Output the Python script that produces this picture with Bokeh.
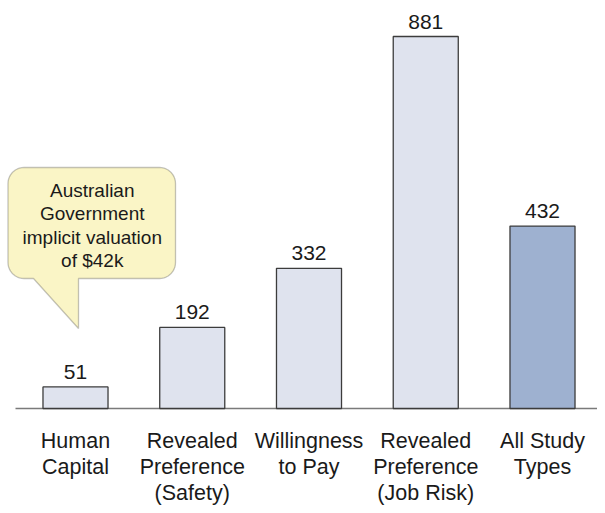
import numpy as np
from bokeh.plotting import figure
from bokeh.models import Range1d, PolyAnnotation, Label
from bokeh.core.properties import value
from bokeh.embed import file_html
from bokeh.resources import INLINE

# ---- data ----
categories = ["Human\nCapital", "Revealed\nPreference\n(Safety)", "Willingness\nto Pay",
              "Revealed\nPreference\n(Job Risk)", "All Study\nTypes"]
values = [51, 192, 332, 881, 432]
value_labels = ["51", "192", "332", "881", "432"]
bar_colors = ["#DFE3EE", "#DFE3EE", "#DFE3EE", "#DFE3EE", "#9EB1D0"]
callout_lines = ["Australian", "Government", "implicit valuation", "of $42k"]

FONT = "Liberation Sans"
x = list(range(len(categories)))

W, H = 597, 505
BASE_PX = 408.0              # figure px of the zero line
PX0, PXSTEP = 75.0, 116.75   # figure px of first category centre, spacing
PX_PER_UNIT = 372.0 / 881.0

def to_data(px, py):
    return (px - PX0) / PXSTEP, (BASE_PX - py) / PX_PER_UNIT

x0, ytop = to_data(0, 0)
x1, ybot = to_data(W, H)

p = figure(width=W, height=H, output_backend="svg", toolbar_location=None,
           x_range=Range1d(x0, x1), y_range=Range1d(ybot, ytop),
           min_border=0)
p.outline_line_color = None
p.grid.visible = False
p.axis.visible = False

# zero line
bx0, _ = to_data(15, 0)
p.line(x=[bx0, x1], y=[0, 0], line_color="#7A7A7A", line_width=1.6)

p.vbar(x=x, top=values, width=0.557, fill_color=bar_colors,
       line_color="#3C3C3C", line_width=1.3)

p.text(x=x, y=values, text=value_labels, text_align="center",
       text_baseline="bottom", y_offset=-8,
       text_font=value(FONT), text_font_size="21px", text_color="#1A1A1A")

# category labels
p.text(x=x, y=[0] * len(x), text=categories, text_align="center",
       text_baseline="top", y_offset=20, text_line_height=1.1,
       text_font=value(FONT), text_font_size="21.5px", text_color="#1A1A1A")

# ---- callout (figure pixel geometry converted to data units) ----
L, R, T, B, r = 7.5, 175, 167, 278, 16
tail_l, tail_r, tip = 33, 78, (78, 328)
pts = []
def arc(cx, cy, a0, a1):
    for a in np.linspace(np.radians(a0), np.radians(a1), 12):
        pts.append((cx + r * np.cos(a), cy + r * np.sin(a)))
arc(L + r, T + r, 180, 270)
arc(R - r, T + r, 270, 360)
arc(R - r, B - r, 0, 90)
pts.append((tail_r, B))
pts.append(tip)
pts.append((tail_l, B))
arc(L + r, B - r, 90, 180)
dxs, dys = zip(*[to_data(a, b) for a, b in pts])
p.add_layout(PolyAnnotation(xs=list(dxs), ys=list(dys), fill_color="#FAF5C6",
                            fill_alpha=1.0, line_color="#3A3A3A", line_width=1.3))

cx = (L + R) / 2
for i, t in enumerate(callout_lines):
    lx, ly = to_data(cx + 0.5, 190 + i * 23.3)
    p.add_layout(Label(x=lx, y=ly, text=t, text_align="center", text_baseline="middle",
                       text_font=FONT, text_font_size="19px", text_color="#1A1A1A"))

open("out.html", "w").write(file_html(p, INLINE))
